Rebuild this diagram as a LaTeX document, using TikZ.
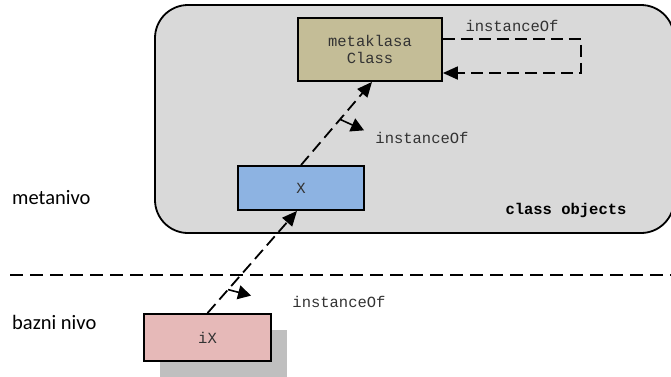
\documentclass[tikz,border=0pt]{standalone}
\usepackage{fontspec}
\setmainfont{Carlito}
\newfontfamily\monofont{Liberation Mono}
\usetikzlibrary{arrows.meta}
\definecolor{tan}{HTML}{C4BD97}
\definecolor{bluebox}{HTML}{8DB3E2}
\definecolor{pinkbox}{HTML}{E6B9B8}
\definecolor{contgray}{HTML}{D9D9D9}
\definecolor{shadowgray}{HTML}{BFBFBF}
\definecolor{txtgray}{HTML}{333333}
\tikzset{
  box/.style={draw=black, line width=1.8pt, inner sep=0pt, align=center,
    font=\monofont\fontsize{15.5}{17}\selectfont, text=txtgray},
  conn/.style={line width=1.8pt, dash pattern=on 12pt off 6pt,
    -{Triangle[length=15pt,width=13pt]}},
  marker/.style={line width=1.6pt, -{Triangle[length=13pt,width=14pt]}},
  lbl/.style={font=\monofont\fontsize{15.5}{17}\selectfont, text=txtgray, inner sep=0pt},
  side/.style={font=\fontsize{20.5}{22}\selectfont, inner sep=0pt, anchor=west}
}
\begin{document}
\begin{tikzpicture}[x=1pt,y=-1pt]
\useasboundingbox (0,0) rectangle (671,376);
% container
\draw[fill=contgray, line width=1.8pt, rounded corners=33pt] (155,5) rectangle (674,233);
% shadow
\fill[shadowgray] (160,330) rectangle (287,380);
% boxes
\node[box, fill=tan, minimum width=144pt, minimum height=63pt] (meta) at (370,49.5) {metaklasa\\Class};
\node[box, fill=bluebox, minimum width=126pt, minimum height=44pt] (X) at (301,188) {X};
\node[box, fill=pinkbox, minimum width=127pt, minimum height=47pt] (iX) at (207.5,337.5) {iX};
% level separator
\coordinate (sepL) at (10,275);
\coordinate (sepR) at (671,275);
\draw[line width=1.8pt, dash pattern=on 13pt off 7pt] (sepL) -- (sepR);
% connectors
\draw[conn] (iX.north) -- ([xshift=-4pt]X.south) coordinate[pos=0.23] (m2);
\draw[conn] (X.north) -- ([xshift=2pt]meta.south) coordinate[pos=0.55] (m1);
\draw[conn] ([yshift=10.5pt]meta.east) -| (581,73) -- ([yshift=-23.5pt]meta.east);
% direction markers
\draw[marker] (m1) -- ++(24,11);
\draw[marker] (m2) -- ++(23,6);
% labels
\node[lbl] (l1) at (512,26) {instanceOf};
\node[lbl] (l2) at (422,138) {instanceOf};
\node[lbl] (l3) at (339,302) {instanceOf};
\node[lbl, font=\monofont\bfseries\fontsize{15.5}{17}\selectfont, text=black] (co) at (566,210) {class objects};
\node[side] (mn) at (12,198) {metanivo};
\node[side] (bn) at (12,322) {bazni nivo};
\end{tikzpicture}
\end{document}
